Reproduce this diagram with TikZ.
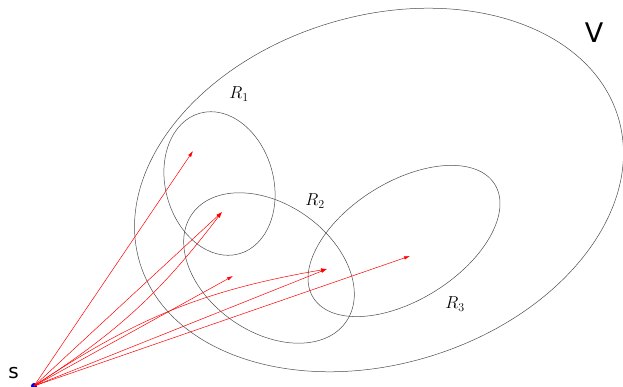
\documentclass[tikz,border=0pt]{standalone}
\usepackage{fontspec}
\usepackage{tikz}
\usetikzlibrary{arrows.meta}
\newfontfamily\sanslabel{DejaVu Sans}

\begin{document}
\begin{tikzpicture}[x=1pt,y=1pt,
    region/.style={draw=black!70,line width=0.5pt},
    ray/.style={red,line width=0.5pt,-{Latex[length=6pt,width=3.5pt]}},
    rlabel/.style={font=\fontsize{18}{20}\selectfont}]
  \useasboundingbox (0,0) rectangle (623,387);
  % whole set and the three regions
  \coordinate (cV) at (379,197);
  \coordinate (c1) at (219.5,203.5);
  \coordinate (c2) at (269,119);
  \coordinate (c3) at (404,146);
  \draw[region,rotate around={17:(cV)}] (cV) ellipse [x radius=250,y radius=174];
  \draw[region,rotate around={15.6:(c1)}] (c1) ellipse [x radius=54,y radius=73];
  \draw[region,rotate around={-35:(c2)}] (c2) ellipse [x radius=94,y radius=64];
  \draw[region,rotate around={32:(c3)}] (c3) ellipse [x radius=107,y radius=59];
  \node[font=\sanslabel\fontsize{27}{30}\selectfont] (V) at (594,354) {V};
  \node[rlabel] (R1) at (239,293) {$R_1$};
  \node[rlabel] (R2) at (315,186) {$R_2$};
  \node[rlabel] (R3) at (455,83) {$R_3$};
  % source and rays
  \coordinate (s) at (34,1);
  \fill[blue!80!black] (s) circle (3);
  \node[font=\sanslabel\fontsize{20}{22}\selectfont] (slabel) at (13.5,13.5) {s};
  \coordinate (t1) at (193,236);
  \coordinate (t2) at (222,175);
  \coordinate (t3) at (233,111);
  \coordinate (t4) at (327,118);
  \coordinate (t5) at (410,131);
  \draw[ray] (s) -- (t1);
  \draw[ray] (s) -- (t2);
  \draw[ray] (s) to[bend right=10] (t2);
  \draw[ray] (s) -- (t3);
  \draw[ray] (s) -- (t4);
  \draw[ray] (s) to[bend left=12] (t4);
  \draw[ray] (s) -- (t5);
\end{tikzpicture}
\end{document}
